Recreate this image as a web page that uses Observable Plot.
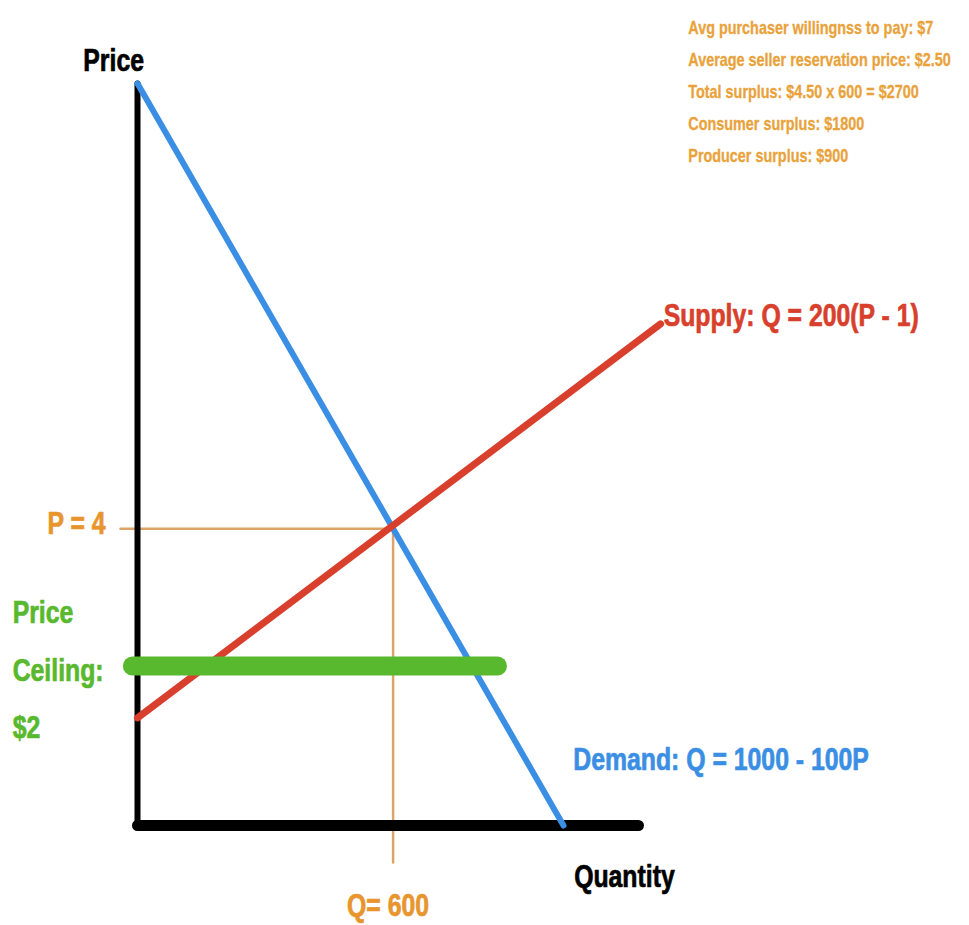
<!DOCTYPE html>
<html>
<head>
<meta charset="utf-8">
<script src="https://cdn.jsdelivr.net/npm/d3@7"></script>
<script src="https://cdn.jsdelivr.net/npm/@observablehq/plot@0.6"></script>
<style>
  html, body { margin: 0; padding: 0; background: #fff; }
  #chart svg { display: block; }
</style>
</head>
<body>
<div id="chart"></div>
<script>
// ---- Data (quantity Q, price P) ----
const demandQ = [0, 1000];
const demandP = [10, 0];
const supplyQ = [0, 1228];
const supplyP = [1.45, 6.76];
const ceilingQ = [-12, 845];
const ceilingP = [2.15, 2.15];
const eqQ = 600;
const eqP = 4;
const axisQmax = 1176;
const axisPmax = 10;
const annotationLines = [
  "Avg purchaser willingnss to pay: $7",
  "Average seller reservation price: $2.50",
  "Total surplus: $4.50 x 600 = $2700",
  "Consumer surplus: $1800",
  "Producer surplus: $900"
];
const labels = {
  price: "Price",
  quantity: "Quantity",
  pLabel: "P = 4",
  qLabel: "Q= 600",
  ceiling: "Price\nCeiling:\n$2",
  supply: "Supply: Q = 200(P - 1)",
  demand: "Demand: Q = 1000 - 100P"
};

const demand = demandQ.map((q, i) => ({Q: q, P: demandP[i]}));
const supply = supplyQ.map((q, i) => ({Q: q, P: supplyP[i]}));
const ceiling = ceilingQ.map((q, i) => ({Q: q, P: ceilingP[i]}));
const yAxisLine = [{Q: 0, P: 0}, {Q: 0, P: axisPmax}];
const xAxisLine = [{Q: 0, P: 0}, {Q: axisQmax, P: 0}];
const guideH = [{Q: -40, P: eqP}, {Q: eqQ, P: eqP}];
const guideV = [{Q: eqQ, P: eqP}, {Q: eqQ, P: -0.5}];

const FONT = "'Liberation Sans', Arial, sans-serif";
const ORANGE = "#e8952e";
const ANNOT = "#e9a23a";
const GREEN = "#58b82e";
const RED = "#d83f2c";
const BLUE = "#3a8fe4";

const big = (fill) => ({fontSize: 31, fontWeight: "bold", fill, stroke: fill, strokeWidth: 0.7});

const plot = Plot.plot({
  width: 969,
  height: 925,
  marginTop: 0, marginRight: 0, marginBottom: 0, marginLeft: 0,
  x: {domain: [0, 1000], range: [137, 563], axis: null},
  y: {domain: [0, 10], range: [825, 83], axis: null},
  style: {fontFamily: FONT, background: "#fff"},
  marks: [
    Plot.line(guideH, {x: "Q", y: "P", stroke: "#dca567", strokeWidth: 2.5}),
    Plot.line(guideV, {x: "Q", y: "P", stroke: "#dca567", strokeWidth: 2.5}),
    Plot.line(yAxisLine, {x: "Q", y: "P", stroke: "#000", strokeWidth: 6}),
    Plot.line(xAxisLine, {x: "Q", y: "P", stroke: "#000", strokeWidth: 11, strokeLinecap: "round"}),
    Plot.line(demand, {x: "Q", y: "P", stroke: BLUE, strokeWidth: 6}),
    Plot.line(supply, {x: "Q", y: "P", stroke: RED, strokeWidth: 7, strokeLinecap: "round"}),
    Plot.line(ceiling, {x: "Q", y: "P", stroke: GREEN, strokeWidth: 19, strokeLinecap: "round"}),
    // labels
    Plot.text([labels.price], {x: () => -56, y: () => 10.3, text: d => d, ...big("#000"), textAnchor: "middle"}),
    Plot.text([labels.quantity], {x: () => 1143, y: () => -0.7, text: d => d, ...big("#000"), textAnchor: "middle"}),
    Plot.text([labels.pLabel], {x: () => -75, y: () => eqP, text: d => d, ...big(ORANGE), textAnchor: "end", dy: -5}),
    Plot.text([labels.qLabel], {x: () => eqQ, y: () => -1.08, text: d => d, ...big(ORANGE), textAnchor: "middle", dx: -5}),
    Plot.text([labels.ceiling], {x: () => -293, y: () => ceilingP[0], text: d => d, ...big(GREEN), textAnchor: "start", lineAnchor: "middle", lineHeight: 1.87, dy: -4}),
    Plot.text([labels.supply], {x: () => supplyQ[1], y: () => supplyP[1], text: d => d, ...big(RED), textAnchor: "start", dx: 3, dy: -8}),
    Plot.text([labels.demand], {x: () => 1023, y: () => 0.88, text: d => d, ...big(BLUE), textAnchor: "start"}),
    Plot.text([annotationLines.join("\n")], {x: () => 1293, y: () => 10.97, text: d => d, fontSize: 18, fontWeight: "bold", fill: ANNOT, stroke: ANNOT, strokeWidth: 0.3, textAnchor: "start", lineAnchor: "top", lineHeight: 1.78})
  ]
});

// condense the bold labels horizontally to mimic a condensed typeface
d3.select(plot).selectAll('g[aria-label="text"] text').each(function () {
  const t = this.getAttribute("transform") || "";
  this.setAttribute("transform", t + " scale(0.8,1)");
});

document.getElementById("chart").appendChild(plot);
</script>
</body>
</html>
